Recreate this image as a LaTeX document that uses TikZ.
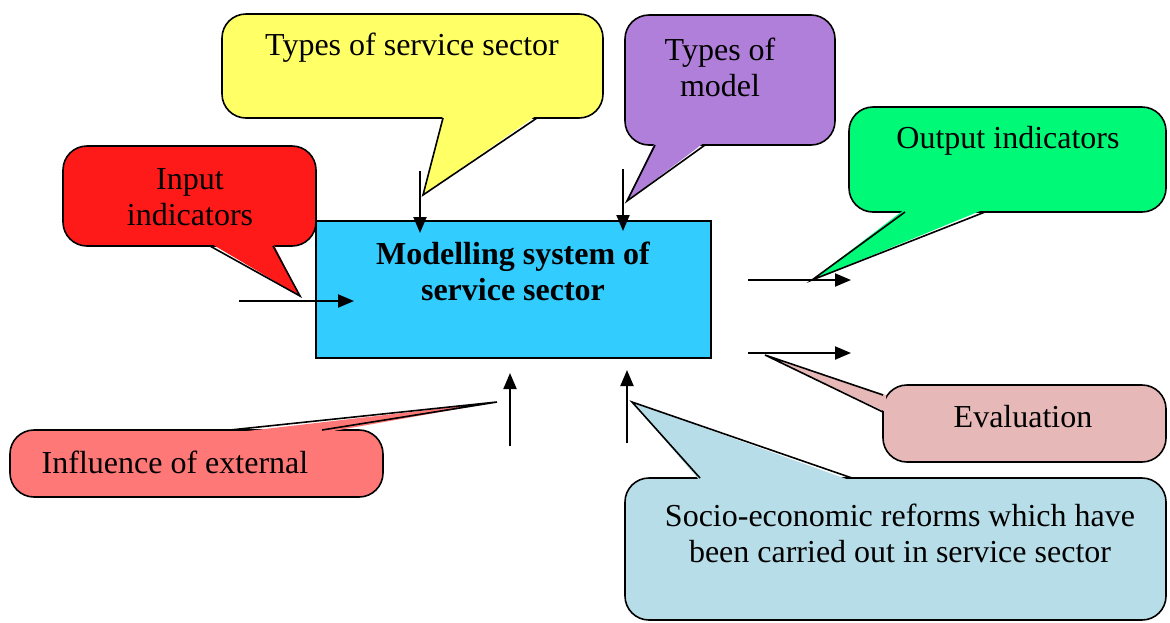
\documentclass[tikz,border=0pt]{standalone}
\usepackage{fontspec}
\setmainfont{Liberation Serif}
\usepackage{tikz}
\usetikzlibrary{arrows.meta, positioning, fit}

\definecolor{modelblue}{HTML}{33CCFF}
\definecolor{sectoryellow}{HTML}{FFFF66}
\definecolor{typepurple}{HTML}{B07FD9}
\definecolor{outgreen}{HTML}{00FA78}
\definecolor{inred}{HTML}{FF1A1A}
\definecolor{evalpink}{HTML}{E6B8B7}
\definecolor{extsalmon}{HTML}{FF7878}
\definecolor{reformblue}{HTML}{B7DEE8}

\begin{document}
\begin{tikzpicture}[
  x=0.5pt, y=-0.5pt,
  bubble/.style={draw, thick, rounded corners=12pt, inner sep=0pt},
  bubbletext/.style={font=\fontsize{16}{18}\selectfont, align=center},
  tail/.style={thick},
  arrow/.style={-{Triangle[length=8pt, width=6.5pt]}, line width=1pt}
]
  \useasboundingbox (0,0) rectangle (1170,622);

  % callout bodies
  \node[bubble, fill=sectoryellow, fit={(222,14) (603,118)}] (sector) {};
  \node[bubble, fill=typepurple, fit={(625,15) (835,145)}] (types) {};
  \node[bubble, fill=outgreen, fit={(849,107) (1166,212)}] (output) {};
  \node[bubble, fill=inred, fit={(63,146) (316,246)}] (input) {};
  \node[bubble, fill=evalpink, fit={(883,385) (1166,462)}] (eval) {};
  \node[bubble, fill=extsalmon, fit={(10,430) (383,497)}] (extern) {};
  \node[bubble, fill=reformblue, fit={(625,478) (1166,620)}] (reform) {};

  % callout tails
  \fill[sectoryellow] (443,115) -- (423,195) -- (537,115) -- cycle;
  \draw[tail] (443,118) -- (423,195) -- (537,118);
  \fill[typepurple] (655,142) -- (627,201) -- (705,142) -- cycle;
  \draw[tail] (655,145) -- (627,201) -- (705,145);
  \fill[outgreen] (905,209) -- (812,280) -- (985,209) -- cycle;
  \draw[tail] (905,212) -- (812,280) -- (985,212);
  \fill[inred] (210,243) -- (300,296) -- (273,243) -- cycle;
  \draw[tail] (210,246) -- (300,296) -- (273,246);
  \fill[evalpink] (886,395) -- (765,355) -- (886,412) -- cycle;
  \draw[tail] (883,395) -- (765,355) -- (883,412);
  \fill[extsalmon] (230,433) -- (497,402) -- (322,433) -- cycle;
  \draw[tail] (230,430) -- (497,402) -- (322,430);
  \fill[reformblue] (700,481) -- (632,402) -- (852,481) -- cycle;
  \draw[tail] (700,478) -- (632,402) -- (852,478);

  % callout texts
  \node[bubbletext] (sectortxt) at (412,48) {Types of service sector};
  \node[bubbletext] (typestxt) at (720,67) {Types of\\model};
  \node[bubbletext] (outputtxt) at (1008,141) {Output indicators};
  \node[bubbletext] (inputtxt) at (190,197) {Input\\indicators};
  \node[bubbletext] (evaltxt) at (1023,417) {Evaluation};
  \node[bubbletext] (externtxt) at (175,462) {Influence of external};
  \node[bubbletext] (reformtxt) at (900,533) {Socio-economic reforms which have\\been carried out in service sector};

  % the modelling system itself
  \node[draw, thick, fill=modelblue, inner sep=0pt, fit={(316,221) (711,358)}] (model) {};
  \node[bubbletext, font=\fontsize{16}{18}\selectfont\bfseries] (modeltxt) at (513,271) {Modelling system of\\service sector};

  % arrows in and out
  \coordinate (inA) at (239,301);   \coordinate (inB) at (354,301);
  \coordinate (secA) at (420,171);  \coordinate (secB) at (420,233);
  \coordinate (typA) at (623,169);  \coordinate (typB) at (623,231);
  \coordinate (outA) at (748,280);  \coordinate (outB) at (851,280);
  \coordinate (evA) at (748,353);   \coordinate (evB) at (851,353);
  \coordinate (extA) at (510,446);  \coordinate (extB) at (510,373);
  \coordinate (refA) at (627,443);  \coordinate (refB) at (627,370);

  \draw[arrow] (inA) -- (inB);
  \draw[arrow] (secA) -- (secB);
  \draw[arrow] (typA) -- (typB);
  \draw[arrow] (outA) -- (outB);
  \draw[arrow] (evA) -- (evB);
  \draw[arrow] (extA) -- (extB);
  \draw[arrow] (refA) -- (refB);
\end{tikzpicture}
\end{document}
